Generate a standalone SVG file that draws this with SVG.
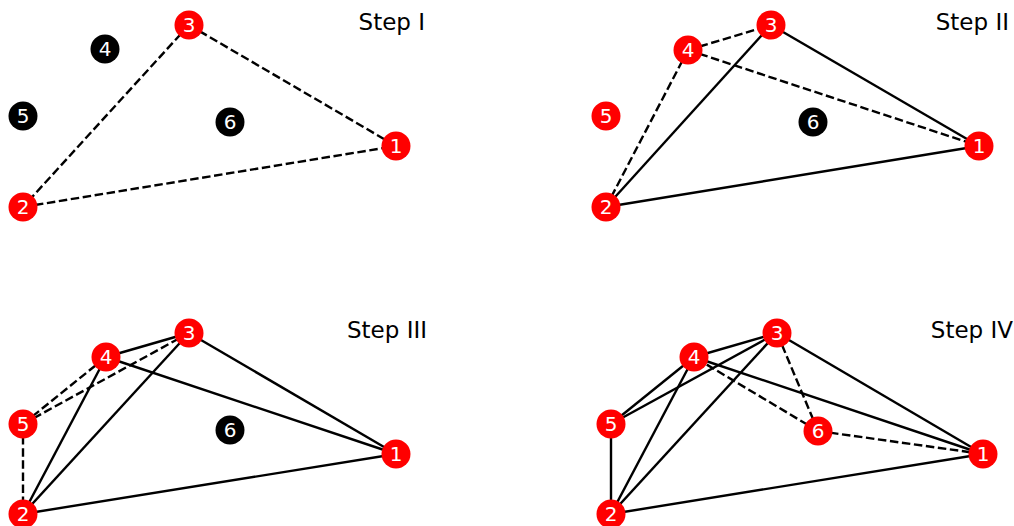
<svg xmlns="http://www.w3.org/2000/svg" width="1014" height="526" viewBox="0 0 1014 526">
<style>
.bg{fill:#fff}
.e{stroke:#000;stroke-width:2.4;fill:none}
.d{stroke-dasharray:8.5 3.6}
.r{fill:#ff0000}
.k{fill:#000}
.lb{fill:#fff;font-family:"DejaVu Sans",sans-serif;font-size:20px;text-anchor:middle;dominant-baseline:central}
.t{fill:#000;font-family:"DejaVu Sans",sans-serif;font-size:23px;text-anchor:end}
</style>
<rect class="bg" width="1014" height="526"/>
<text class="t" x="425" y="30">Step I</text>
<text class="t" x="1009" y="30">Step II</text>
<text class="t" x="427" y="338">Step III</text>
<text class="t" x="1013" y="338">Step IV</text>
<g id="connectors">
<!-- Step I -->
<line class="e d" x1="189" y1="25" x2="396" y2="146"/>
<line class="e d" x1="189" y1="25" x2="23" y2="207"/>
<line class="e d" x1="23" y1="207" x2="396" y2="146"/>
<!-- Step II -->
<line class="e" x1="771" y1="25" x2="979" y2="146"/>
<line class="e" x1="771" y1="25" x2="606" y2="207"/>
<line class="e" x1="606" y1="207" x2="979" y2="146"/>
<line class="e d" x1="688" y1="50" x2="771" y2="25"/>
<line class="e d" x1="688" y1="50" x2="979" y2="146"/>
<line class="e d" x1="688" y1="50" x2="606" y2="207"/>
<!-- Step III -->
<line class="e" x1="189" y1="333" x2="396" y2="454"/>
<line class="e" x1="189" y1="333" x2="23" y2="514"/>
<line class="e" x1="23" y1="514" x2="396" y2="454"/>
<line class="e" x1="106" y1="357" x2="189" y2="333"/>
<line class="e" x1="106" y1="357" x2="396" y2="454"/>
<line class="e" x1="106" y1="357" x2="23" y2="514"/>
<line class="e d" x1="23" y1="424" x2="106" y2="357"/>
<line class="e d" x1="23" y1="424" x2="189" y2="333"/>
<line class="e d" x1="23" y1="424" x2="23" y2="514"/>
<!-- Step IV -->
<line class="e" x1="777" y1="333" x2="983" y2="454"/>
<line class="e" x1="777" y1="333" x2="611" y2="514"/>
<line class="e" x1="611" y1="514" x2="983" y2="454"/>
<line class="e" x1="694" y1="357" x2="777" y2="333"/>
<line class="e" x1="694" y1="357" x2="983" y2="454"/>
<line class="e" x1="694" y1="357" x2="611" y2="514"/>
<line class="e" x1="611" y1="424" x2="694" y2="357"/>
<line class="e" x1="611" y1="424" x2="777" y2="333"/>
<line class="e" x1="611" y1="424" x2="611" y2="514"/>
<line class="e d" x1="818" y1="431" x2="694" y2="357"/>
<line class="e d" x1="818" y1="431" x2="777" y2="333"/>
<line class="e d" x1="818" y1="431" x2="983" y2="454"/>
</g>
<!-- Step I nodes -->
<g id="s1n1"><circle class="r" cx="396" cy="146" r="14.5"/><text class="lb" x="396" y="146">1</text></g>
<g id="s1n2"><circle class="r" cx="23" cy="207" r="14.5"/><text class="lb" x="23" y="207">2</text></g>
<g id="s1n3"><circle class="r" cx="189" cy="25" r="14.5"/><text class="lb" x="189" y="25">3</text></g>
<g id="s1n4"><circle class="k" cx="105" cy="49" r="14.5"/><text class="lb" x="105" y="49">4</text></g>
<g id="s1n5"><circle class="k" cx="23" cy="116" r="14.5"/><text class="lb" x="23" y="116">5</text></g>
<g id="s1n6"><circle class="k" cx="230" cy="122" r="14.5"/><text class="lb" x="230" y="122">6</text></g>
<!-- Step II nodes -->
<g id="s2n1"><circle class="r" cx="979" cy="146" r="14.5"/><text class="lb" x="979" y="146">1</text></g>
<g id="s2n2"><circle class="r" cx="606" cy="207" r="14.5"/><text class="lb" x="606" y="207">2</text></g>
<g id="s2n3"><circle class="r" cx="771" cy="25" r="14.5"/><text class="lb" x="771" y="25">3</text></g>
<g id="s2n4"><circle class="r" cx="688" cy="50" r="14.5"/><text class="lb" x="688" y="50">4</text></g>
<g id="s2n5"><circle class="r" cx="606" cy="116" r="14.5"/><text class="lb" x="606" y="116">5</text></g>
<g id="s2n6"><circle class="k" cx="813" cy="122" r="14.5"/><text class="lb" x="813" y="122">6</text></g>
<!-- Step III nodes -->
<g id="s3n1"><circle class="r" cx="396" cy="454" r="14.5"/><text class="lb" x="396" y="454">1</text></g>
<g id="s3n2"><circle class="r" cx="23" cy="514" r="14.5"/><text class="lb" x="23" y="514">2</text></g>
<g id="s3n3"><circle class="r" cx="189" cy="333" r="14.5"/><text class="lb" x="189" y="333">3</text></g>
<g id="s3n4"><circle class="r" cx="106" cy="357" r="14.5"/><text class="lb" x="106" y="357">4</text></g>
<g id="s3n5"><circle class="r" cx="23" cy="424" r="14.5"/><text class="lb" x="23" y="424">5</text></g>
<g id="s3n6"><circle class="k" cx="230" cy="430" r="14.5"/><text class="lb" x="230" y="430">6</text></g>
<!-- Step IV nodes -->
<g id="s4n1"><circle class="r" cx="983" cy="454" r="14.5"/><text class="lb" x="983" y="454">1</text></g>
<g id="s4n2"><circle class="r" cx="611" cy="514" r="14.5"/><text class="lb" x="611" y="514">2</text></g>
<g id="s4n3"><circle class="r" cx="777" cy="333" r="14.5"/><text class="lb" x="777" y="333">3</text></g>
<g id="s4n4"><circle class="r" cx="694" cy="357" r="14.5"/><text class="lb" x="694" y="357">4</text></g>
<g id="s4n5"><circle class="r" cx="611" cy="424" r="14.5"/><text class="lb" x="611" y="424">5</text></g>
<g id="s4n6"><circle class="r" cx="818" cy="431" r="14.5"/><text class="lb" x="818" y="431">6</text></g>
</svg>
